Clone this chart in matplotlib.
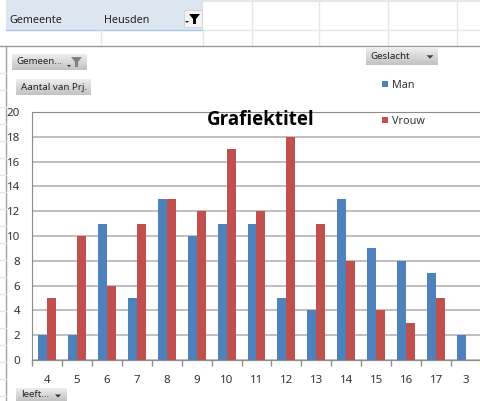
import matplotlib
matplotlib.use("Agg")
import matplotlib.pyplot as plt
import numpy as np
from matplotlib.lines import Line2D
from matplotlib.patches import Rectangle, Polygon

categories = ["4", "5", "6", "7", "8", "9", "10", "11", "12", "13", "14", "15", "16", "17", "3"]
man = [2, 2, 11, 5, 13, 10, 11, 11, 5, 4, 13, 9, 8, 7, 2]
vrouw = [5, 10, 6, 11, 13, 12, 17, 12, 18, 11, 8, 4, 3, 5, 0]
y_ticks = list(range(0, 21, 2))

W, H = 481, 401
fig = plt.figure(figsize=(W / 100, H / 100), dpi=100, facecolor="white")
plt.rcParams["font.family"] = ["Noto Sans", "DejaVu Sans"]


def fx(x):
    return x / W


def fy(y):
    return 1 - y / H


def hline(y, x0, x1, color, lw=1.0):
    fig.add_artist(Line2D([fx(x0), fx(x1)], [fy(y), fy(y)], color=color, lw=lw))


def vline(x, y0, y1, color, lw=1.0):
    fig.add_artist(Line2D([fx(x), fx(x)], [fy(y0), fy(y1)], color=color, lw=lw))


def rect(x0, y0, x1, y1, **kw):
    fig.add_artist(Rectangle((fx(x0), fy(y1)), (x1 - x0) / W, (y1 - y0) / H, **kw))


def button(x0, y0, x1, y1, label, tx):
    grad = np.linspace(0.93, 0.76, 32).reshape(-1, 1)
    a = fig.add_axes([fx(x0), fy(y1), (x1 - x0) / W, (y1 - y0) / H], zorder=5)
    a.imshow(grad, cmap="gray", vmin=0, vmax=1, aspect="auto")
    a.axis("off")
    fig.text(fx(tx), fy((y0 + y1) / 2), label, fontsize=7.0, color="#222222",
             va="center", ha="left", zorder=6)


# spreadsheet background
rect(6, 0, 203, 30, facecolor="#dce6f1", edgecolor="none")
hline(30, 6, 203, "#a9c4e4", 1.0)
hline(30, 203, W, "#e6e6e6", 1.0)
hline(1, 203, W, "#e6e6e6", 1.5)
for x in [252, 319, 388, 457]:
    vline(x, 0, 46, "#e6e6e6", 1.0)
for x in [101, 203]:
    vline(x, 30, 46, "#e6e6e6", 1.0)
hline(46, 0, W, "#9a9a9a", 1.0)
vline(6, 46, H, "#a0a0a0", 1.0)
for y in [73, 90, 107, 124, 141, 158, 175, 192, 209, 226, 243, 260, 277, 294, 311,
          328, 345, 362, 379, 396]:
    hline(y, 0, 6, "#e6e6e6", 1.0)

fig.text(fx(9), fy(20.5), "Gemeente", fontsize=7.8, color="#222222", va="center")
fig.text(fx(104), fy(20.5), "Heusden", fontsize=7.8, color="#222222", va="center")
rect(184, 10, 202, 27, facecolor="#f3f3f3", edgecolor="#d0d0d0", lw=0.6)
fig.add_artist(Polygon([(fx(189), fy(14)), (fx(200), fy(14)), (fx(196), fy(19)), (fx(196), fy(24)),
                        (fx(193), fy(24)), (fx(193), fy(19))], closed=True, facecolor="black",
                       edgecolor="none", transform=fig.transFigure))

# chart
ax = fig.add_axes([fx(32), fy(360), (W - 32) / W, (360 - 112) / H])
x = np.arange(len(categories))
width = 0.3
ax.bar(x - width / 2, man, width, color="#4f81bd", zorder=3)
ax.bar(x + width / 2, vrouw, width, color="#c0504d", zorder=3)
ax.set_xlim(-0.5, len(categories) - 0.5)
ax.set_ylim(0, 20)
ax.set_yticks(y_ticks)
ax.set_xticks(x)
ax.set_xticklabels(categories)
ax.set_xticks(np.arange(-0.5, len(categories)), minor=True)
ax.tick_params(axis="x", which="major", length=0, pad=11, labelsize=8.3, labelcolor="#333333")
ax.tick_params(axis="x", which="minor", length=4, color="#8c8c8c", width=1)
ax.tick_params(axis="y", length=0, pad=8.5, labelsize=8.3, labelcolor="#333333")
ax.grid(axis="y", color="#b3b3b3", lw=1.2, zorder=0)
for s in ["top", "bottom", "left"]:
    ax.spines[s].set_color("#8c8c8c")
ax.spines["right"].set_visible(False)
ax.patch.set_alpha(0)

fig.text(fx(261), fy(120), "Grafiektitel", fontsize=13.5, fontweight="bold",
         family=["Open Sans", "DejaVu Sans"], color="black",
         ha="center", va="center", zorder=6)

# legend
rect(382, 81, 388, 87, facecolor="#4f81bd", edgecolor="none", zorder=6)
rect(382, 117, 388, 123, facecolor="#c0504d", edgecolor="none", zorder=6)
fig.text(fx(392), fy(85), "Man", fontsize=7.8, color="#333333", va="center", zorder=6)
fig.text(fx(392), fy(121.5), "Vrouw", fontsize=7.8, color="#333333", va="center", zorder=6)

# field buttons
button(12, 54, 87, 70, "Gemeen...", 16)
button(16, 79, 91, 95, "Aantal van Prj.", 21)
button(366, 48, 438, 65, "Geslacht", 370)
button(16, 388, 67, 401, "leeft...", 21)


def tri(cx, cy, s, color):
    fig.add_artist(Polygon([(fx(cx - s), fy(cy - s / 2)), (fx(cx + s), fy(cy - s / 2)), (fx(cx), fy(cy + s / 2))],
                           closed=True, facecolor=color, edgecolor="none", zorder=7))


tri(430, 57, 3.5, "#444444")
tri(58, 396, 3, "#333333")
tri(69, 66, 2, "#333333")
tri(187, 22, 2, "#222222")
fig.add_artist(Polygon([(fx(71), fy(57)), (fx(82), fy(57)), (fx(78), fy(62)), (fx(78), fy(67)),
                        (fx(75), fy(67)), (fx(75), fy(62))], closed=True, facecolor="#808080",
                       edgecolor="none", zorder=7))

fig.savefig("out.png", dpi=100)
